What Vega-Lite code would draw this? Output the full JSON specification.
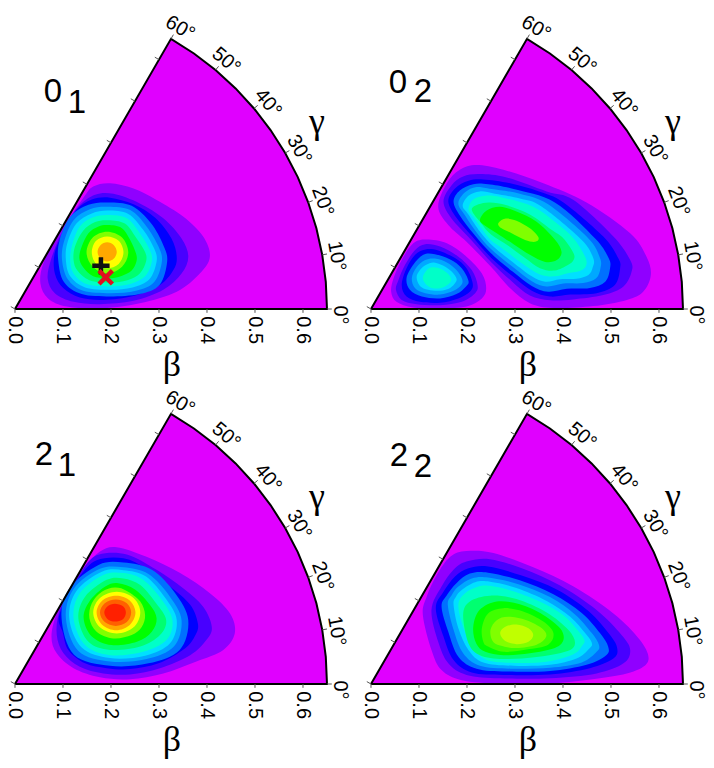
{"$schema":"https://vega.github.io/schema/vega-lite/v6.json","padding":0,"background":"white","spacing":0,"columns":2,"bounds":"flush","config":{"view":{"stroke":null},"concat":{"spacing":0}},
"datasets":{
"frame":[{"x":0,"y":0},{"x":0.65,"y":0},{"x":0.6475,"y":0.0567},{"x":0.6401,"y":0.1129},{"x":0.6279,"y":0.1682},{"x":0.6108,"y":0.2223},{"x":0.5891,"y":0.2747},{"x":0.5629,"y":0.325},{"x":0.5324,"y":0.3728},{"x":0.4979,"y":0.4178},{"x":0.4596,"y":0.4596},{"x":0.4178,"y":0.4979},{"x":0.3728,"y":0.5324},{"x":0.325,"y":0.5629},{"x":0,"y":0}],
"ticks":[{"x":0,"y":0,"x2":0,"y2":-0.008},{"x":0.1,"y":0,"x2":0.1,"y2":-0.008},{"x":0.2,"y":0,"x2":0.2,"y2":-0.008},{"x":0.3,"y":0,"x2":0.3,"y2":-0.008},{"x":0.4,"y":0,"x2":0.4,"y2":-0.008},{"x":0.5,"y":0,"x2":0.5,"y2":-0.008},{"x":0.6,"y":0,"x2":0.6,"y2":-0.008},
{"x":0,"y":0,"x2":-0.0087,"y2":0.005},{"x":0.05,"y":0.0866,"x2":0.0413,"y2":0.0916},{"x":0.1,"y":0.1732,"x2":0.0913,"y2":0.1782},{"x":0.15,"y":0.2598,"x2":0.1413,"y2":0.2648},{"x":0.2,"y":0.3464,"x2":0.1913,"y2":0.3514},{"x":0.25,"y":0.433,"x2":0.2413,"y2":0.438},{"x":0.3,"y":0.5196,"x2":0.2913,"y2":0.5246},
{"x":0.65,"y":0,"x2":0.66,"y2":0},{"x":0.6401,"y":0.1129,"x2":0.65,"y2":0.1146},{"x":0.6108,"y":0.2223,"x2":0.6202,"y2":0.2257},{"x":0.5629,"y":0.325,"x2":0.5716,"y2":0.33},{"x":0.4979,"y":0.4178,"x2":0.5056,"y2":0.4242},{"x":0.4178,"y":0.4979,"x2":0.4242,"y2":0.5056},{"x":0.325,"y":0.5629,"x2":0.33,"y2":0.5716}],
"betaLabels":[{"x":0,"y":-0.044,"t":"0.0"},{"x":0.1,"y":-0.044,"t":"0.1"},{"x":0.2,"y":-0.044,"t":"0.2"},{"x":0.3,"y":-0.044,"t":"0.3"},{"x":0.4,"y":-0.044,"t":"0.4"},{"x":0.5,"y":-0.044,"t":"0.5"},{"x":0.6,"y":-0.044,"t":"0.6"}],
"gammaLabels":[{"x":0.677,"y":-0.0125,"g":0,"t":"0°"},{"x":0.67,"y":0.11,"g":10,"t":"10°"},{"x":0.641,"y":0.224,"g":20,"t":"20°"},{"x":0.592,"y":0.332,"g":30,"t":"30°"},{"x":0.527,"y":0.429,"g":40,"t":"40°"},{"x":0.44,"y":0.517,"g":50,"t":"50°"},{"x":0.344,"y":0.585,"g":60,"t":"60°"}],
"axisNames":[{"x":0.327,"y":-0.117,"t":"β"},{"x":0.629,"y":0.39,"t":"γ"}],
"titles":[{"p":1,"x":0.079,"y":0.452,"t":"0"},{"p":1,"x":0.129,"y":0.429,"t":"1"},{"p":2,"x":0.056,"y":0.471,"t":"0"},{"p":2,"x":0.108,"y":0.452,"t":"2"},{"p":3,"x":0.06,"y":0.477,"t":"2"},{"p":3,"x":0.108,"y":0.454,"t":"1"},{"p":4,"x":0.058,"y":0.475,"t":"2"},{"p":4,"x":0.108,"y":0.452,"t":"2"}],
"contours":[
{"p":1,"l":1,"x":0.053,"y":0.053},{"p":1,"l":1,"x":0.069,"y":0.022},{"p":1,"l":1,"x":0.108,"y":0.005},{"p":1,"l":1,"x":0.177,"y":0.001},{"p":1,"l":1,"x":0.26,"y":0.012},{"p":1,"l":1,"x":0.337,"y":0.036},{"p":1,"l":1,"x":0.385,"y":0.074},{"p":1,"l":1,"x":0.406,"y":0.109},{"p":1,"l":1,"x":0.392,"y":0.151},{"p":1,"l":1,"x":0.351,"y":0.192},{"p":1,"l":1,"x":0.295,"y":0.227},{"p":1,"l":1,"x":0.247,"y":0.251},{"p":1,"l":1,"x":0.198,"y":0.262},{"p":1,"l":1,"x":0.163,"y":0.255},{"p":1,"l":1,"x":0.142,"y":0.231},{"p":1,"l":1,"x":0.09,"y":0.154},{"p":1,"l":1,"x":0.059,"y":0.095},
{"p":1,"l":2,"x":0.068,"y":0.064},{"p":1,"l":2,"x":0.083,"y":0.033},{"p":1,"l":2,"x":0.122,"y":0.015},{"p":1,"l":2,"x":0.177,"y":0.01},{"p":1,"l":2,"x":0.247,"y":0.017},{"p":1,"l":2,"x":0.309,"y":0.04},{"p":1,"l":2,"x":0.347,"y":0.074},{"p":1,"l":2,"x":0.361,"y":0.109},{"p":1,"l":2,"x":0.347,"y":0.147},{"p":1,"l":2,"x":0.309,"y":0.189},{"p":1,"l":2,"x":0.26,"y":0.22},{"p":1,"l":2,"x":0.205,"y":0.24},{"p":1,"l":2,"x":0.167,"y":0.238},{"p":1,"l":2,"x":0.132,"y":0.213},{"p":1,"l":2,"x":0.097,"y":0.158},{"p":1,"l":2,"x":0.076,"y":0.106},
{"p":1,"l":3,"x":0.083,"y":0.074},{"p":1,"l":3,"x":0.101,"y":0.043},{"p":1,"l":3,"x":0.135,"y":0.024},{"p":1,"l":3,"x":0.184,"y":0.019},{"p":1,"l":3,"x":0.247,"y":0.027},{"p":1,"l":3,"x":0.302,"y":0.05},{"p":1,"l":3,"x":0.33,"y":0.081},{"p":1,"l":3,"x":0.337,"y":0.109},{"p":1,"l":3,"x":0.326,"y":0.147},{"p":1,"l":3,"x":0.292,"y":0.19},{"p":1,"l":3,"x":0.247,"y":0.218},{"p":1,"l":3,"x":0.198,"y":0.232},{"p":1,"l":3,"x":0.16,"y":0.228},{"p":1,"l":3,"x":0.128,"y":0.207},{"p":1,"l":3,"x":0.104,"y":0.165},{"p":1,"l":3,"x":0.083,"y":0.118},
{"p":1,"l":4,"x":0.194,"y":0.222},{"p":1,"l":4,"x":0.243,"y":0.215},{"p":1,"l":4,"x":0.283,"y":0.179},{"p":1,"l":4,"x":0.309,"y":0.133},{"p":1,"l":4,"x":0.317,"y":0.099},{"p":1,"l":4,"x":0.301,"y":0.05},{"p":1,"l":4,"x":0.259,"y":0.031},{"p":1,"l":4,"x":0.198,"y":0.026},{"p":1,"l":4,"x":0.139,"y":0.031},{"p":1,"l":4,"x":0.102,"y":0.056},{"p":1,"l":4,"x":0.09,"y":0.102},{"p":1,"l":4,"x":0.093,"y":0.144},{"p":1,"l":4,"x":0.115,"y":0.192},{"p":1,"l":4,"x":0.153,"y":0.217},
{"p":1,"l":5,"x":0.194,"y":0.213},{"p":1,"l":5,"x":0.24,"y":0.206},{"p":1,"l":5,"x":0.274,"y":0.172},{"p":1,"l":5,"x":0.299,"y":0.13},{"p":1,"l":5,"x":0.306,"y":0.099},{"p":1,"l":5,"x":0.29,"y":0.056},{"p":1,"l":5,"x":0.252,"y":0.038},{"p":1,"l":5,"x":0.198,"y":0.033},{"p":1,"l":5,"x":0.142,"y":0.038},{"p":1,"l":5,"x":0.11,"y":0.062},{"p":1,"l":5,"x":0.098,"y":0.102},{"p":1,"l":5,"x":0.102,"y":0.14},{"p":1,"l":5,"x":0.122,"y":0.185},{"p":1,"l":5,"x":0.156,"y":0.208},
{"p":1,"l":6,"x":0.194,"y":0.205},{"p":1,"l":6,"x":0.236,"y":0.198},{"p":1,"l":6,"x":0.267,"y":0.165},{"p":1,"l":6,"x":0.29,"y":0.126},{"p":1,"l":6,"x":0.295,"y":0.099},{"p":1,"l":6,"x":0.28,"y":0.062},{"p":1,"l":6,"x":0.245,"y":0.045},{"p":1,"l":6,"x":0.198,"y":0.04},{"p":1,"l":6,"x":0.146,"y":0.045},{"p":1,"l":6,"x":0.115,"y":0.068},{"p":1,"l":6,"x":0.106,"y":0.102},{"p":1,"l":6,"x":0.109,"y":0.137},{"p":1,"l":6,"x":0.128,"y":0.178},{"p":1,"l":6,"x":0.16,"y":0.199},
{"p":1,"l":7,"x":0.195,"y":0.196},{"p":1,"l":7,"x":0.233,"y":0.189},{"p":1,"l":7,"x":0.26,"y":0.158},{"p":1,"l":7,"x":0.281,"y":0.123},{"p":1,"l":7,"x":0.285,"y":0.099},{"p":1,"l":7,"x":0.271,"y":0.068},{"p":1,"l":7,"x":0.24,"y":0.052},{"p":1,"l":7,"x":0.198,"y":0.047},{"p":1,"l":7,"x":0.149,"y":0.052},{"p":1,"l":7,"x":0.122,"y":0.074},{"p":1,"l":7,"x":0.115,"y":0.102},{"p":1,"l":7,"x":0.119,"y":0.133},{"p":1,"l":7,"x":0.135,"y":0.172},{"p":1,"l":7,"x":0.163,"y":0.191},
{"p":1,"l":8,"x":0.194,"y":0.185},{"p":1,"l":8,"x":0.229,"y":0.178},{"p":1,"l":8,"x":0.252,"y":0.149},{"p":1,"l":8,"x":0.271,"y":0.119},{"p":1,"l":8,"x":0.273,"y":0.099},{"p":1,"l":8,"x":0.26,"y":0.074},{"p":1,"l":8,"x":0.234,"y":0.06},{"p":1,"l":8,"x":0.198,"y":0.055},{"p":1,"l":8,"x":0.155,"y":0.06},{"p":1,"l":8,"x":0.13,"y":0.08},{"p":1,"l":8,"x":0.122,"y":0.102},{"p":1,"l":8,"x":0.125,"y":0.13},{"p":1,"l":8,"x":0.142,"y":0.163},{"p":1,"l":8,"x":0.167,"y":0.181},
{"p":1,"l":9,"x":0.194,"y":0.175},{"p":1,"l":9,"x":0.222,"y":0.169},{"p":1,"l":9,"x":0.24,"y":0.144},{"p":1,"l":9,"x":0.252,"y":0.116},{"p":1,"l":9,"x":0.253,"y":0.099},{"p":1,"l":9,"x":0.243,"y":0.08},{"p":1,"l":9,"x":0.222,"y":0.069},{"p":1,"l":9,"x":0.194,"y":0.064},{"p":1,"l":9,"x":0.163,"y":0.068},{"p":1,"l":9,"x":0.142,"y":0.087},{"p":1,"l":9,"x":0.134,"y":0.106},{"p":1,"l":9,"x":0.139,"y":0.13},{"p":1,"l":9,"x":0.153,"y":0.158},{"p":1,"l":9,"x":0.174,"y":0.172},
{"p":1,"l":10,"x":0.236,"y":0.118},{"p":1,"l":10,"x":0.223,"y":0.149},{"p":1,"l":10,"x":0.192,"y":0.161},{"p":1,"l":10,"x":0.162,"y":0.149},{"p":1,"l":10,"x":0.149,"y":0.118},{"p":1,"l":10,"x":0.162,"y":0.088},{"p":1,"l":10,"x":0.192,"y":0.074},{"p":1,"l":10,"x":0.223,"y":0.088},
{"p":1,"l":11,"x":0.226,"y":0.118},{"p":1,"l":11,"x":0.216,"y":0.142},{"p":1,"l":11,"x":0.192,"y":0.151},{"p":1,"l":11,"x":0.169,"y":0.142},{"p":1,"l":11,"x":0.16,"y":0.118},{"p":1,"l":11,"x":0.169,"y":0.094},{"p":1,"l":11,"x":0.192,"y":0.085},{"p":1,"l":11,"x":0.216,"y":0.094},
{"p":1,"l":12,"x":0.212,"y":0.119},{"p":1,"l":12,"x":0.206,"y":0.133},{"p":1,"l":12,"x":0.192,"y":0.139},{"p":1,"l":12,"x":0.178,"y":0.133},{"p":1,"l":12,"x":0.172,"y":0.119},{"p":1,"l":12,"x":0.178,"y":0.105},{"p":1,"l":12,"x":0.192,"y":0.099},{"p":1,"l":12,"x":0.206,"y":0.105},

{"p":2,"l":1,"x":0.042,"y":0.036},{"p":2,"l":1,"x":0.053,"y":0.015},{"p":2,"l":1,"x":0.088,"y":0.003},{"p":2,"l":1,"x":0.144,"y":0.001},{"p":2,"l":1,"x":0.199,"y":0.005},{"p":2,"l":1,"x":0.231,"y":0.022},{"p":2,"l":1,"x":0.24,"y":0.043},{"p":2,"l":1,"x":0.231,"y":0.074},{"p":2,"l":1,"x":0.199,"y":0.109},{"p":2,"l":1,"x":0.158,"y":0.137},{"p":2,"l":1,"x":0.116,"y":0.145},{"p":2,"l":1,"x":0.088,"y":0.137},{"p":2,"l":1,"x":0.064,"y":0.102},{"p":2,"l":1,"x":0.047,"y":0.064},
{"p":2,"l":2,"x":0.052,"y":0.04},{"p":2,"l":2,"x":0.064,"y":0.019},{"p":2,"l":2,"x":0.095,"y":0.01},{"p":2,"l":2,"x":0.144,"y":0.008},{"p":2,"l":2,"x":0.189,"y":0.015},{"p":2,"l":2,"x":0.217,"y":0.033},{"p":2,"l":2,"x":0.222,"y":0.05},{"p":2,"l":2,"x":0.21,"y":0.081},{"p":2,"l":2,"x":0.182,"y":0.109},{"p":2,"l":2,"x":0.144,"y":0.13},{"p":2,"l":2,"x":0.113,"y":0.135},{"p":2,"l":2,"x":0.092,"y":0.123},{"p":2,"l":2,"x":0.071,"y":0.092},{"p":2,"l":2,"x":0.057,"y":0.06},
{"p":2,"l":3,"x":0.064,"y":0.05},{"p":2,"l":3,"x":0.074,"y":0.026},{"p":2,"l":3,"x":0.102,"y":0.015},{"p":2,"l":3,"x":0.144,"y":0.013},{"p":2,"l":3,"x":0.182,"y":0.022},{"p":2,"l":3,"x":0.206,"y":0.036},{"p":2,"l":3,"x":0.212,"y":0.053},{"p":2,"l":3,"x":0.199,"y":0.085},{"p":2,"l":3,"x":0.175,"y":0.106},{"p":2,"l":3,"x":0.14,"y":0.122},{"p":2,"l":3,"x":0.113,"y":0.124},{"p":2,"l":3,"x":0.092,"y":0.113},{"p":2,"l":3,"x":0.074,"y":0.085},
{"p":2,"l":4,"x":0.074,"y":0.064},{"p":2,"l":4,"x":0.081,"y":0.04},{"p":2,"l":4,"x":0.106,"y":0.026},{"p":2,"l":4,"x":0.144,"y":0.022},{"p":2,"l":4,"x":0.178,"y":0.031},{"p":2,"l":4,"x":0.198,"y":0.047},{"p":2,"l":4,"x":0.203,"y":0.059},{"p":2,"l":4,"x":0.189,"y":0.085},{"p":2,"l":4,"x":0.165,"y":0.103},{"p":2,"l":4,"x":0.133,"y":0.114},{"p":2,"l":4,"x":0.109,"y":0.113},{"p":2,"l":4,"x":0.088,"y":0.092},
{"p":2,"l":5,"x":0.085,"y":0.064},{"p":2,"l":5,"x":0.092,"y":0.043},{"p":2,"l":5,"x":0.113,"y":0.033},{"p":2,"l":5,"x":0.144,"y":0.03},{"p":2,"l":5,"x":0.172,"y":0.038},{"p":2,"l":5,"x":0.188,"y":0.05},{"p":2,"l":5,"x":0.19,"y":0.062},{"p":2,"l":5,"x":0.178,"y":0.081},{"p":2,"l":5,"x":0.158,"y":0.097},{"p":2,"l":5,"x":0.133,"y":0.105},{"p":2,"l":5,"x":0.113,"y":0.102},{"p":2,"l":5,"x":0.095,"y":0.087},
{"p":2,"l":6,"x":0.095,"y":0.066},{"p":2,"l":6,"x":0.102,"y":0.048},{"p":2,"l":6,"x":0.119,"y":0.04},{"p":2,"l":6,"x":0.144,"y":0.038},{"p":2,"l":6,"x":0.165,"y":0.044},{"p":2,"l":6,"x":0.176,"y":0.055},{"p":2,"l":6,"x":0.178,"y":0.064},{"p":2,"l":6,"x":0.168,"y":0.078},{"p":2,"l":6,"x":0.151,"y":0.09},{"p":2,"l":6,"x":0.131,"y":0.097},{"p":2,"l":6,"x":0.115,"y":0.092},{"p":2,"l":6,"x":0.102,"y":0.081},
{"p":2,"l":7,"x":0.108,"y":0.066},{"p":2,"l":7,"x":0.114,"y":0.052},{"p":2,"l":7,"x":0.126,"y":0.044},{"p":2,"l":7,"x":0.144,"y":0.043},{"p":2,"l":7,"x":0.159,"y":0.05},{"p":2,"l":7,"x":0.167,"y":0.06},{"p":2,"l":7,"x":0.161,"y":0.073},{"p":2,"l":7,"x":0.147,"y":0.083},{"p":2,"l":7,"x":0.131,"y":0.087},{"p":2,"l":7,"x":0.118,"y":0.083},

{"p":2,"m":1,"l":1,"x":0.14,"y":0.213},{"p":2,"m":1,"l":1,"x":0.158,"y":0.262},{"p":2,"m":1,"l":1,"x":0.185,"y":0.29},{"p":2,"m":1,"l":1,"x":0.22,"y":0.3},{"p":2,"m":1,"l":1,"x":0.276,"y":0.29},{"p":2,"m":1,"l":1,"x":0.359,"y":0.262},{"p":2,"m":1,"l":1,"x":0.449,"y":0.222},{"p":2,"m":1,"l":1,"x":0.54,"y":0.158},{"p":2,"m":1,"l":1,"x":0.574,"y":0.109},{"p":2,"m":1,"l":1,"x":0.583,"y":0.071},{"p":2,"m":1,"l":1,"x":0.567,"y":0.036},{"p":2,"m":1,"l":1,"x":0.533,"y":0.019},{"p":2,"m":1,"l":1,"x":0.463,"y":0.006},{"p":2,"m":1,"l":1,"x":0.38,"y":0.002},{"p":2,"m":1,"l":1,"x":0.331,"y":0.012},{"p":2,"m":1,"l":1,"x":0.29,"y":0.043},{"p":2,"m":1,"l":1,"x":0.248,"y":0.09},{"p":2,"m":1,"l":1,"x":0.199,"y":0.14},{"p":2,"m":1,"l":1,"x":0.161,"y":0.175},
{"p":2,"m":1,"l":2,"x":0.151,"y":0.224},{"p":2,"m":1,"l":2,"x":0.168,"y":0.258},{"p":2,"m":1,"l":2,"x":0.192,"y":0.276},{"p":2,"m":1,"l":2,"x":0.227,"y":0.281},{"p":2,"m":1,"l":2,"x":0.283,"y":0.274},{"p":2,"m":1,"l":2,"x":0.366,"y":0.245},{"p":2,"m":1,"l":2,"x":0.422,"y":0.227},{"p":2,"m":1,"l":2,"x":0.505,"y":0.151},{"p":2,"m":1,"l":2,"x":0.54,"y":0.102},{"p":2,"m":1,"l":2,"x":0.543,"y":0.078},{"p":2,"m":1,"l":2,"x":0.526,"y":0.047},{"p":2,"m":1,"l":2,"x":0.484,"y":0.029},{"p":2,"m":1,"l":2,"x":0.421,"y":0.02},{"p":2,"m":1,"l":2,"x":0.373,"y":0.018},{"p":2,"m":1,"l":2,"x":0.331,"y":0.028},{"p":2,"m":1,"l":2,"x":0.293,"y":0.058},{"p":2,"m":1,"l":2,"x":0.251,"y":0.097},{"p":2,"m":1,"l":2,"x":0.203,"y":0.15},{"p":2,"m":1,"l":2,"x":0.168,"y":0.188},
{"p":2,"m":1,"l":3,"x":0.161,"y":0.224},{"p":2,"m":1,"l":3,"x":0.175,"y":0.251},{"p":2,"m":1,"l":3,"x":0.203,"y":0.267},{"p":2,"m":1,"l":3,"x":0.234,"y":0.27},{"p":2,"m":1,"l":3,"x":0.29,"y":0.262},{"p":2,"m":1,"l":3,"x":0.35,"y":0.245},{"p":2,"m":1,"l":3,"x":0.401,"y":0.222},{"p":2,"m":1,"l":3,"x":0.484,"y":0.151},{"p":2,"m":1,"l":3,"x":0.515,"y":0.106},{"p":2,"m":1,"l":3,"x":0.519,"y":0.085},{"p":2,"m":1,"l":3,"x":0.508,"y":0.05},{"p":2,"m":1,"l":3,"x":0.47,"y":0.033},{"p":2,"m":1,"l":3,"x":0.415,"y":0.03},{"p":2,"m":1,"l":3,"x":0.373,"y":0.026},{"p":2,"m":1,"l":3,"x":0.335,"y":0.038},{"p":2,"m":1,"l":3,"x":0.295,"y":0.068},{"p":2,"m":1,"l":3,"x":0.25,"y":0.107},{"p":2,"m":1,"l":3,"x":0.21,"y":0.152},{"p":2,"m":1,"l":3,"x":0.178,"y":0.19},
{"p":2,"m":1,"l":4,"x":0.172,"y":0.224},{"p":2,"m":1,"l":4,"x":0.185,"y":0.247},{"p":2,"m":1,"l":4,"x":0.213,"y":0.26},{"p":2,"m":1,"l":4,"x":0.244,"y":0.26},{"p":2,"m":1,"l":4,"x":0.297,"y":0.25},{"p":2,"m":1,"l":4,"x":0.383,"y":0.222},{"p":2,"m":1,"l":4,"x":0.467,"y":0.147},{"p":2,"m":1,"l":4,"x":0.495,"y":0.106},{"p":2,"m":1,"l":4,"x":0.498,"y":0.085},{"p":2,"m":1,"l":4,"x":0.488,"y":0.057},{"p":2,"m":1,"l":4,"x":0.456,"y":0.044},{"p":2,"m":1,"l":4,"x":0.408,"y":0.042},{"p":2,"m":1,"l":4,"x":0.369,"y":0.036},{"p":2,"m":1,"l":4,"x":0.335,"y":0.048},{"p":2,"m":1,"l":4,"x":0.295,"y":0.078},{"p":2,"m":1,"l":4,"x":0.25,"y":0.116},{"p":2,"m":1,"l":4,"x":0.215,"y":0.155},{"p":2,"m":1,"l":4,"x":0.185,"y":0.195},
{"p":2,"m":1,"l":5,"x":0.182,"y":0.22},{"p":2,"m":1,"l":5,"x":0.196,"y":0.243},{"p":2,"m":1,"l":5,"x":0.22,"y":0.254},{"p":2,"m":1,"l":5,"x":0.251,"y":0.25},{"p":2,"m":1,"l":5,"x":0.31,"y":0.24},{"p":2,"m":1,"l":5,"x":0.369,"y":0.218},{"p":2,"m":1,"l":5,"x":0.453,"y":0.147},{"p":2,"m":1,"l":5,"x":0.477,"y":0.106},{"p":2,"m":1,"l":5,"x":0.478,"y":0.085},{"p":2,"m":1,"l":5,"x":0.469,"y":0.064},{"p":2,"m":1,"l":5,"x":0.442,"y":0.054},{"p":2,"m":1,"l":5,"x":0.401,"y":0.053},{"p":2,"m":1,"l":5,"x":0.366,"y":0.047},{"p":2,"m":1,"l":5,"x":0.335,"y":0.058},{"p":2,"m":1,"l":5,"x":0.295,"y":0.088},{"p":2,"m":1,"l":5,"x":0.25,"y":0.125},{"p":2,"m":1,"l":5,"x":0.222,"y":0.157},{"p":2,"m":1,"l":5,"x":0.196,"y":0.195},
{"p":2,"m":1,"l":6,"x":0.191,"y":0.215},{"p":2,"m":1,"l":6,"x":0.203,"y":0.236},{"p":2,"m":1,"l":6,"x":0.227,"y":0.245},{"p":2,"m":1,"l":6,"x":0.258,"y":0.24},{"p":2,"m":1,"l":6,"x":0.31,"y":0.23},{"p":2,"m":1,"l":6,"x":0.356,"y":0.213},{"p":2,"m":1,"l":6,"x":0.439,"y":0.144},{"p":2,"m":1,"l":6,"x":0.463,"y":0.106},{"p":2,"m":1,"l":6,"x":0.462,"y":0.087},{"p":2,"m":1,"l":6,"x":0.453,"y":0.071},{"p":2,"m":1,"l":6,"x":0.428,"y":0.063},{"p":2,"m":1,"l":6,"x":0.394,"y":0.062},{"p":2,"m":1,"l":6,"x":0.363,"y":0.057},{"p":2,"m":1,"l":6,"x":0.335,"y":0.068},{"p":2,"m":1,"l":6,"x":0.295,"y":0.098},{"p":2,"m":1,"l":6,"x":0.255,"y":0.13},{"p":2,"m":1,"l":6,"x":0.228,"y":0.16},{"p":2,"m":1,"l":6,"x":0.203,"y":0.197},
{"p":2,"m":1,"l":7,"x":0.203,"y":0.208},{"p":2,"m":1,"l":7,"x":0.213,"y":0.228},{"p":2,"m":1,"l":7,"x":0.238,"y":0.236},{"p":2,"m":1,"l":7,"x":0.275,"y":0.232},{"p":2,"m":1,"l":7,"x":0.338,"y":0.213},{"p":2,"m":1,"l":7,"x":0.385,"y":0.18},{"p":2,"m":1,"l":7,"x":0.422,"y":0.147},{"p":2,"m":1,"l":7,"x":0.446,"y":0.109},{"p":2,"m":1,"l":7,"x":0.448,"y":0.09},{"p":2,"m":1,"l":7,"x":0.435,"y":0.079},{"p":2,"m":1,"l":7,"x":0.408,"y":0.074},{"p":2,"m":1,"l":7,"x":0.383,"y":0.068},{"p":2,"m":1,"l":7,"x":0.352,"y":0.072},{"p":2,"m":1,"l":7,"x":0.315,"y":0.095},{"p":2,"m":1,"l":7,"x":0.275,"y":0.125},{"p":2,"m":1,"l":7,"x":0.25,"y":0.143},{"p":2,"m":1,"l":7,"x":0.232,"y":0.165},{"p":2,"m":1,"l":7,"x":0.213,"y":0.192},
{"p":2,"m":1,"l":8,"x":0.21,"y":0.206},{"p":2,"m":1,"l":8,"x":0.224,"y":0.218},{"p":2,"m":1,"l":8,"x":0.248,"y":0.222},{"p":2,"m":1,"l":8,"x":0.283,"y":0.216},{"p":2,"m":1,"l":8,"x":0.331,"y":0.197},{"p":2,"m":1,"l":8,"x":0.376,"y":0.165},{"p":2,"m":1,"l":8,"x":0.401,"y":0.147},{"p":2,"m":1,"l":8,"x":0.422,"y":0.116},{"p":2,"m":1,"l":8,"x":0.422,"y":0.102},{"p":2,"m":1,"l":8,"x":0.411,"y":0.092},{"p":2,"m":1,"l":8,"x":0.383,"y":0.08},{"p":2,"m":1,"l":8,"x":0.352,"y":0.085},{"p":2,"m":1,"l":8,"x":0.321,"y":0.106},{"p":2,"m":1,"l":8,"x":0.286,"y":0.132},{"p":2,"m":1,"l":8,"x":0.25,"y":0.155},{"p":2,"m":1,"l":8,"x":0.23,"y":0.178},
{"p":2,"m":1,"l":9,"x":0.227,"y":0.185},{"p":2,"m":1,"l":9,"x":0.241,"y":0.205},{"p":2,"m":1,"l":9,"x":0.269,"y":0.213},{"p":2,"m":1,"l":9,"x":0.303,"y":0.203},{"p":2,"m":1,"l":9,"x":0.345,"y":0.182},{"p":2,"m":1,"l":9,"x":0.383,"y":0.145},{"p":2,"m":1,"l":9,"x":0.397,"y":0.119},{"p":2,"m":1,"l":9,"x":0.387,"y":0.102},{"p":2,"m":1,"l":9,"x":0.363,"y":0.098},{"p":2,"m":1,"l":9,"x":0.331,"y":0.113},{"p":2,"m":1,"l":9,"x":0.297,"y":0.135},{"p":2,"m":1,"l":9,"x":0.262,"y":0.158},{"p":2,"m":1,"l":9,"x":0.24,"y":0.172},
{"p":2,"m":1,"l":10,"x":0.265,"y":0.178},{"p":2,"m":1,"l":10,"x":0.279,"y":0.188},{"p":2,"m":1,"l":10,"x":0.303,"y":0.184},{"p":2,"m":1,"l":10,"x":0.331,"y":0.168},{"p":2,"m":1,"l":10,"x":0.349,"y":0.149},{"p":2,"m":1,"l":10,"x":0.342,"y":0.14},{"p":2,"m":1,"l":10,"x":0.321,"y":0.144},{"p":2,"m":1,"l":10,"x":0.293,"y":0.158},{"p":2,"m":1,"l":10,"x":0.272,"y":0.168},

{"p":3,"l":1,"x":0.076,"y":0.099},{"p":3,"l":1,"x":0.087,"y":0.064},{"p":3,"l":1,"x":0.122,"y":0.033},{"p":3,"l":1,"x":0.177,"y":0.014},{"p":3,"l":1,"x":0.24,"y":0.01},{"p":3,"l":1,"x":0.309,"y":0.022},{"p":3,"l":1,"x":0.378,"y":0.047},{"p":3,"l":1,"x":0.434,"y":0.071},{"p":3,"l":1,"x":0.458,"y":0.106},{"p":3,"l":1,"x":0.448,"y":0.147},{"p":3,"l":1,"x":0.406,"y":0.189},{"p":3,"l":1,"x":0.344,"y":0.231},{"p":3,"l":1,"x":0.274,"y":0.265},{"p":3,"l":1,"x":0.212,"y":0.285},{"p":3,"l":1,"x":0.177,"y":0.276},{"p":3,"l":1,"x":0.146,"y":0.244},{"p":3,"l":1,"x":0.115,"y":0.196},{"p":3,"l":1,"x":0.087,"y":0.147},
{"p":3,"l":2,"x":0.087,"y":0.102},{"p":3,"l":2,"x":0.101,"y":0.064},{"p":3,"l":2,"x":0.135,"y":0.036},{"p":3,"l":2,"x":0.184,"y":0.022},{"p":3,"l":2,"x":0.24,"y":0.02},{"p":3,"l":2,"x":0.302,"y":0.033},{"p":3,"l":2,"x":0.365,"y":0.06},{"p":3,"l":2,"x":0.399,"y":0.092},{"p":3,"l":2,"x":0.41,"y":0.119},{"p":3,"l":2,"x":0.392,"y":0.161},{"p":3,"l":2,"x":0.351,"y":0.199},{"p":3,"l":2,"x":0.295,"y":0.238},{"p":3,"l":2,"x":0.233,"y":0.27},{"p":3,"l":2,"x":0.175,"y":0.27},{"p":3,"l":2,"x":0.145,"y":0.245},{"p":3,"l":2,"x":0.118,"y":0.2},{"p":3,"l":2,"x":0.092,"y":0.15},
{"p":3,"l":3,"x":0.099,"y":0.109},{"p":3,"l":3,"x":0.111,"y":0.071},{"p":3,"l":3,"x":0.146,"y":0.043},{"p":3,"l":3,"x":0.191,"y":0.033},{"p":3,"l":3,"x":0.24,"y":0.031},{"p":3,"l":3,"x":0.299,"y":0.043},{"p":3,"l":3,"x":0.354,"y":0.074},{"p":3,"l":3,"x":0.376,"y":0.102},{"p":3,"l":3,"x":0.381,"y":0.126},{"p":3,"l":3,"x":0.365,"y":0.165},{"p":3,"l":3,"x":0.323,"y":0.203},{"p":3,"l":3,"x":0.274,"y":0.24},{"p":3,"l":3,"x":0.226,"y":0.262},{"p":3,"l":3,"x":0.17,"y":0.258},{"p":3,"l":3,"x":0.135,"y":0.225},{"p":3,"l":3,"x":0.108,"y":0.18},{"p":3,"l":3,"x":0.091,"y":0.137},
{"p":3,"l":4,"x":0.361,"y":0.133},{"p":3,"l":4,"x":0.333,"y":0.19},{"p":3,"l":4,"x":0.285,"y":0.238},{"p":3,"l":4,"x":0.226,"y":0.253},{"p":3,"l":4,"x":0.174,"y":0.248},{"p":3,"l":4,"x":0.113,"y":0.199},{"p":3,"l":4,"x":0.097,"y":0.137},{"p":3,"l":4,"x":0.123,"y":0.061},{"p":3,"l":4,"x":0.198,"y":0.038},{"p":3,"l":4,"x":0.278,"y":0.043},{"p":3,"l":4,"x":0.343,"y":0.071},
{"p":3,"l":5,"x":0.347,"y":0.133},{"p":3,"l":5,"x":0.322,"y":0.183},{"p":3,"l":5,"x":0.278,"y":0.229},{"p":3,"l":5,"x":0.226,"y":0.243},{"p":3,"l":5,"x":0.177,"y":0.24},{"p":3,"l":5,"x":0.122,"y":0.198},{"p":3,"l":5,"x":0.106,"y":0.137},{"p":3,"l":5,"x":0.132,"y":0.069},{"p":3,"l":5,"x":0.198,"y":0.047},{"p":3,"l":5,"x":0.274,"y":0.052},{"p":3,"l":5,"x":0.331,"y":0.078},
{"p":3,"l":6,"x":0.337,"y":0.133},{"p":3,"l":6,"x":0.314,"y":0.178},{"p":3,"l":6,"x":0.273,"y":0.224},{"p":3,"l":6,"x":0.226,"y":0.237},{"p":3,"l":6,"x":0.181,"y":0.234},{"p":3,"l":6,"x":0.128,"y":0.194},{"p":3,"l":6,"x":0.113,"y":0.137},{"p":3,"l":6,"x":0.139,"y":0.076},{"p":3,"l":6,"x":0.198,"y":0.054},{"p":3,"l":6,"x":0.271,"y":0.059},{"p":3,"l":6,"x":0.323,"y":0.085},
{"p":3,"l":7,"x":0.328,"y":0.133},{"p":3,"l":7,"x":0.306,"y":0.175},{"p":3,"l":7,"x":0.267,"y":0.217},{"p":3,"l":7,"x":0.226,"y":0.231},{"p":3,"l":7,"x":0.184,"y":0.227},{"p":3,"l":7,"x":0.135,"y":0.189},{"p":3,"l":7,"x":0.122,"y":0.137},{"p":3,"l":7,"x":0.146,"y":0.081},{"p":3,"l":7,"x":0.198,"y":0.06},{"p":3,"l":7,"x":0.267,"y":0.067},{"p":3,"l":7,"x":0.316,"y":0.092},
{"p":3,"l":8,"x":0.315,"y":0.133},{"p":3,"l":8,"x":0.294,"y":0.168},{"p":3,"l":8,"x":0.261,"y":0.206},{"p":3,"l":8,"x":0.226,"y":0.22},{"p":3,"l":8,"x":0.191,"y":0.217},{"p":3,"l":8,"x":0.146,"y":0.182},{"p":3,"l":8,"x":0.132,"y":0.137},{"p":3,"l":8,"x":0.153,"y":0.088},{"p":3,"l":8,"x":0.198,"y":0.071},{"p":3,"l":8,"x":0.261,"y":0.078},{"p":3,"l":8,"x":0.302,"y":0.102},
{"p":3,"l":9,"x":0.295,"y":0.137},{"p":3,"l":9,"x":0.281,"y":0.165},{"p":3,"l":9,"x":0.25,"y":0.197},{"p":3,"l":9,"x":0.215,"y":0.21},{"p":3,"l":9,"x":0.188,"y":0.203},{"p":3,"l":9,"x":0.155,"y":0.172},{"p":3,"l":9,"x":0.143,"y":0.137},{"p":3,"l":9,"x":0.16,"y":0.099},{"p":3,"l":9,"x":0.201,"y":0.081},{"p":3,"l":9,"x":0.254,"y":0.088},{"p":3,"l":9,"x":0.285,"y":0.109},
{"p":3,"l":10,"x":0.271,"y":0.144},{"p":3,"l":10,"x":0.261,"y":0.172},{"p":3,"l":10,"x":0.233,"y":0.194},{"p":3,"l":10,"x":0.208,"y":0.201},{"p":3,"l":10,"x":0.181,"y":0.192},{"p":3,"l":10,"x":0.16,"y":0.168},{"p":3,"l":10,"x":0.155,"y":0.137},{"p":3,"l":10,"x":0.17,"y":0.109},{"p":3,"l":10,"x":0.205,"y":0.095},{"p":3,"l":10,"x":0.243,"y":0.102},{"p":3,"l":10,"x":0.264,"y":0.119},
{"p":3,"l":11,"x":0.261,"y":0.149},{"p":3,"l":11,"x":0.247,"y":0.179},{"p":3,"l":11,"x":0.212,"y":0.192},{"p":3,"l":11,"x":0.177,"y":0.179},{"p":3,"l":11,"x":0.163,"y":0.149},{"p":3,"l":11,"x":0.177,"y":0.118},{"p":3,"l":11,"x":0.212,"y":0.105},{"p":3,"l":11,"x":0.247,"y":0.118},
{"p":3,"l":12,"x":0.251,"y":0.149},{"p":3,"l":12,"x":0.239,"y":0.174},{"p":3,"l":12,"x":0.211,"y":0.184},{"p":3,"l":12,"x":0.182,"y":0.174},{"p":3,"l":12,"x":0.17,"y":0.149},{"p":3,"l":12,"x":0.182,"y":0.123},{"p":3,"l":12,"x":0.211,"y":0.112},{"p":3,"l":12,"x":0.239,"y":0.123},
{"p":3,"l":13,"x":0.242,"y":0.149},{"p":3,"l":13,"x":0.233,"y":0.168},{"p":3,"l":13,"x":0.21,"y":0.176},{"p":3,"l":13,"x":0.187,"y":0.168},{"p":3,"l":13,"x":0.177,"y":0.149},{"p":3,"l":13,"x":0.187,"y":0.129},{"p":3,"l":13,"x":0.21,"y":0.121},{"p":3,"l":13,"x":0.233,"y":0.129},
{"p":3,"l":14,"x":0.231,"y":0.149},{"p":3,"l":14,"x":0.225,"y":0.162},{"p":3,"l":14,"x":0.208,"y":0.167},{"p":3,"l":14,"x":0.193,"y":0.162},{"p":3,"l":14,"x":0.186,"y":0.149},{"p":3,"l":14,"x":0.193,"y":0.135},{"p":3,"l":14,"x":0.208,"y":0.13},{"p":3,"l":14,"x":0.225,"y":0.135},

{"p":4,"l":1,"x":0.108,"y":0.144},{"p":4,"l":1,"x":0.126,"y":0.071},{"p":4,"l":1,"x":0.147,"y":0.029},{"p":4,"l":1,"x":0.189,"y":0.008},{"p":4,"l":1,"x":0.269,"y":0.001},{"p":4,"l":1,"x":0.373,"y":0.001},{"p":4,"l":1,"x":0.477,"y":0.012},{"p":4,"l":1,"x":0.547,"y":0.026},{"p":4,"l":1,"x":0.578,"y":0.05},{"p":4,"l":1,"x":0.56,"y":0.092},{"p":4,"l":1,"x":0.505,"y":0.147},{"p":4,"l":1,"x":0.422,"y":0.203},{"p":4,"l":1,"x":0.338,"y":0.243},{"p":4,"l":1,"x":0.255,"y":0.273},{"p":4,"l":1,"x":0.199,"y":0.277},{"p":4,"l":1,"x":0.165,"y":0.265},{"p":4,"l":1,"x":0.137,"y":0.227},{"p":4,"l":1,"x":0.116,"y":0.182},
{"p":4,"l":2,"x":0.126,"y":0.154},{"p":4,"l":2,"x":0.14,"y":0.088},{"p":4,"l":2,"x":0.161,"y":0.043},{"p":4,"l":2,"x":0.199,"y":0.019},{"p":4,"l":2,"x":0.269,"y":0.012},{"p":4,"l":2,"x":0.373,"y":0.012},{"p":4,"l":2,"x":0.47,"y":0.022},{"p":4,"l":2,"x":0.526,"y":0.043},{"p":4,"l":2,"x":0.54,"y":0.071},{"p":4,"l":2,"x":0.522,"y":0.102},{"p":4,"l":2,"x":0.47,"y":0.154},{"p":4,"l":2,"x":0.394,"y":0.205},{"p":4,"l":2,"x":0.317,"y":0.24},{"p":4,"l":2,"x":0.248,"y":0.26},{"p":4,"l":2,"x":0.203,"y":0.256},{"p":4,"l":2,"x":0.175,"y":0.241},{"p":4,"l":2,"x":0.147,"y":0.203},
{"p":4,"l":3,"x":0.135,"y":0.158},{"p":4,"l":3,"x":0.151,"y":0.099},{"p":4,"l":3,"x":0.172,"y":0.05},{"p":4,"l":3,"x":0.21,"y":0.024},{"p":4,"l":3,"x":0.276,"y":0.019},{"p":4,"l":3,"x":0.373,"y":0.02},{"p":4,"l":3,"x":0.456,"y":0.033},{"p":4,"l":3,"x":0.505,"y":0.053},{"p":4,"l":3,"x":0.513,"y":0.074},{"p":4,"l":3,"x":0.498,"y":0.102},{"p":4,"l":3,"x":0.453,"y":0.152},{"p":4,"l":3,"x":0.387,"y":0.197},{"p":4,"l":3,"x":0.314,"y":0.226},{"p":4,"l":3,"x":0.244,"y":0.245},{"p":4,"l":3,"x":0.203,"y":0.241},{"p":4,"l":3,"x":0.175,"y":0.224},{"p":4,"l":3,"x":0.151,"y":0.192},
{"p":4,"l":4,"x":0.147,"y":0.161},{"p":4,"l":4,"x":0.161,"y":0.109},{"p":4,"l":4,"x":0.182,"y":0.057},{"p":4,"l":4,"x":0.22,"y":0.032},{"p":4,"l":4,"x":0.283,"y":0.026},{"p":4,"l":4,"x":0.373,"y":0.027},{"p":4,"l":4,"x":0.449,"y":0.04},{"p":4,"l":4,"x":0.49,"y":0.06},{"p":4,"l":4,"x":0.494,"y":0.078},{"p":4,"l":4,"x":0.477,"y":0.106},{"p":4,"l":4,"x":0.439,"y":0.148},{"p":4,"l":4,"x":0.38,"y":0.187},{"p":4,"l":4,"x":0.31,"y":0.216},{"p":4,"l":4,"x":0.244,"y":0.232},{"p":4,"l":4,"x":0.206,"y":0.23},{"p":4,"l":4,"x":0.178,"y":0.21},{"p":4,"l":4,"x":0.158,"y":0.185},
{"p":4,"l":5,"x":0.16,"y":0.165},{"p":4,"l":5,"x":0.172,"y":0.113},{"p":4,"l":5,"x":0.192,"y":0.064},{"p":4,"l":5,"x":0.227,"y":0.038},{"p":4,"l":5,"x":0.29,"y":0.032},{"p":4,"l":5,"x":0.373,"y":0.034},{"p":4,"l":5,"x":0.439,"y":0.045},{"p":4,"l":5,"x":0.47,"y":0.067},{"p":4,"l":5,"x":0.475,"y":0.081},{"p":4,"l":5,"x":0.46,"y":0.106},{"p":4,"l":5,"x":0.425,"y":0.145},{"p":4,"l":5,"x":0.373,"y":0.181},{"p":4,"l":5,"x":0.307,"y":0.208},{"p":4,"l":5,"x":0.244,"y":0.222},{"p":4,"l":5,"x":0.21,"y":0.22},{"p":4,"l":5,"x":0.182,"y":0.203},{"p":4,"l":5,"x":0.168,"y":0.185},
{"p":4,"l":6,"x":0.172,"y":0.165},{"p":4,"l":6,"x":0.182,"y":0.116},{"p":4,"l":6,"x":0.203,"y":0.071},{"p":4,"l":6,"x":0.234,"y":0.045},{"p":4,"l":6,"x":0.297,"y":0.038},{"p":4,"l":6,"x":0.373,"y":0.04},{"p":4,"l":6,"x":0.428,"y":0.053},{"p":4,"l":6,"x":0.455,"y":0.074},{"p":4,"l":6,"x":0.46,"y":0.086},{"p":4,"l":6,"x":0.446,"y":0.106},{"p":4,"l":6,"x":0.415,"y":0.14},{"p":4,"l":6,"x":0.366,"y":0.173},{"p":4,"l":6,"x":0.303,"y":0.2},{"p":4,"l":6,"x":0.248,"y":0.213},{"p":4,"l":6,"x":0.217,"y":0.212},{"p":4,"l":6,"x":0.189,"y":0.196},{"p":4,"l":6,"x":0.177,"y":0.182},
{"p":4,"l":7,"x":0.182,"y":0.165},{"p":4,"l":7,"x":0.192,"y":0.119},{"p":4,"l":7,"x":0.212,"y":0.078},{"p":4,"l":7,"x":0.241,"y":0.05},{"p":4,"l":7,"x":0.3,"y":0.044},{"p":4,"l":7,"x":0.369,"y":0.047},{"p":4,"l":7,"x":0.422,"y":0.062},{"p":4,"l":7,"x":0.441,"y":0.081},{"p":4,"l":7,"x":0.444,"y":0.093},{"p":4,"l":7,"x":0.428,"y":0.115},{"p":4,"l":7,"x":0.401,"y":0.143},{"p":4,"l":7,"x":0.359,"y":0.168},{"p":4,"l":7,"x":0.3,"y":0.192},{"p":4,"l":7,"x":0.251,"y":0.204},{"p":4,"l":7,"x":0.224,"y":0.203},{"p":4,"l":7,"x":0.196,"y":0.189},
{"p":4,"l":8,"x":0.192,"y":0.144},{"p":4,"l":8,"x":0.203,"y":0.085},{"p":4,"l":8,"x":0.227,"y":0.06},{"p":4,"l":8,"x":0.276,"y":0.052},{"p":4,"l":8,"x":0.345,"y":0.056},{"p":4,"l":8,"x":0.408,"y":0.068},{"p":4,"l":8,"x":0.425,"y":0.085},{"p":4,"l":8,"x":0.411,"y":0.113},{"p":4,"l":8,"x":0.366,"y":0.149},{"p":4,"l":8,"x":0.303,"y":0.177},{"p":4,"l":8,"x":0.248,"y":0.184},{"p":4,"l":8,"x":0.206,"y":0.172},
{"p":4,"l":9,"x":0.213,"y":0.119},{"p":4,"l":9,"x":0.219,"y":0.085},{"p":4,"l":9,"x":0.238,"y":0.067},{"p":4,"l":9,"x":0.276,"y":0.06},{"p":4,"l":9,"x":0.331,"y":0.064},{"p":4,"l":9,"x":0.383,"y":0.075},{"p":4,"l":9,"x":0.401,"y":0.092},{"p":4,"l":9,"x":0.394,"y":0.116},{"p":4,"l":9,"x":0.359,"y":0.144},{"p":4,"l":9,"x":0.31,"y":0.166},{"p":4,"l":9,"x":0.262,"y":0.172},{"p":4,"l":9,"x":0.226,"y":0.154},
{"p":4,"l":9.5,"x":0.231,"y":0.116},{"p":4,"l":9.5,"x":0.234,"y":0.088},{"p":4,"l":9.5,"x":0.244,"y":0.078},{"p":4,"l":9.5,"x":0.276,"y":0.067},{"p":4,"l":9.5,"x":0.324,"y":0.072},{"p":4,"l":9.5,"x":0.369,"y":0.082},{"p":4,"l":9.5,"x":0.38,"y":0.106},{"p":4,"l":9.5,"x":0.359,"y":0.13},{"p":4,"l":9.5,"x":0.317,"y":0.151},{"p":4,"l":9.5,"x":0.276,"y":0.158},{"p":4,"l":9.5,"x":0.244,"y":0.147},
{"p":4,"l":10,"x":0.249,"y":0.113},{"p":4,"l":10,"x":0.253,"y":0.09},{"p":4,"l":10,"x":0.269,"y":0.08},{"p":4,"l":10,"x":0.303,"y":0.075},{"p":4,"l":10,"x":0.345,"y":0.082},{"p":4,"l":10,"x":0.365,"y":0.099},{"p":4,"l":10,"x":0.356,"y":0.116},{"p":4,"l":10,"x":0.324,"y":0.133},{"p":4,"l":10,"x":0.286,"y":0.14},{"p":4,"l":10,"x":0.262,"y":0.133},
{"p":4,"l":10.5,"x":0.269,"y":0.106},{"p":4,"l":10.5,"x":0.279,"y":0.119},{"p":4,"l":10.5,"x":0.303,"y":0.124},{"p":4,"l":10.5,"x":0.328,"y":0.116},{"p":4,"l":10.5,"x":0.338,"y":0.102},{"p":4,"l":10.5,"x":0.328,"y":0.088},{"p":4,"l":10.5,"x":0.303,"y":0.083},{"p":4,"l":10.5,"x":0.279,"y":0.09}
],
"markers":[{"x":0.179,"y":0.09,"k":"plus"},{"x":0.189,"y":0.066,"k":"cross"}]
},
"concat":[
{"width":356,"height":375,"encoding":{"x":{"field":"x","type":"quantitative","scale":{"domain":[-0.03125,0.71042]},"axis":null},"y":{"field":"y","type":"quantitative","scale":{"domain":[-0.1375,0.64375]},"axis":null}},"layer":[
{"data":{"name":"frame"},"mark":{"type":"line","fill":"#e000ff","stroke":"transparent"},"encoding":{"order":{"value":null}}},
{"data":{"name":"contours"},"transform":[{"filter":"datum.p==1"}],"mark":{"type":"line","interpolate":"cardinal-closed","strokeWidth":0,"stroke":"transparent"},"encoding":{"fill":{"field":"l","type":"ordinal","legend":null,"scale":{"domain":[1,2,3,4,5,6,7,8,9,9.5,10,10.5,11,12,13,14],"range":["#9000ff","#4800ff","#0000ff","#0070ff","#00a8ff","#00e0ff","#00ffc8","#00ff70","#00ff00","#40ff00","#80ff00","#c0ff00","#ffff00","#ffa800","#ff6000","#ff2000"]}},"detail":{"field":"m"},"order":{"value":null}}},
{"data":{"name":"frame"},"mark":{"type":"line","stroke":"black","strokeWidth":2},"encoding":{"order":{"value":null}}},
{"data":{"name":"ticks"},"mark":{"type":"rule","stroke":"#555","strokeWidth":1},"encoding":{"x2":{"field":"x2"},"y2":{"field":"y2"}}},
{"data":{"name":"betaLabels"},"mark":{"type":"text","font":"Liberation Sans","fontSize":20,"angle":90,"align":"center","baseline":"middle"},"encoding":{"text":{"field":"t"}}},
{"data":{"name":"gammaLabels"},"mark":{"type":"text","font":"Liberation Sans","fontSize":20,"align":"center","baseline":"middle"},"encoding":{"text":{"field":"t"},"angle":{"field":"g","type":"quantitative","scale":{"domain":[0,90],"range":[90,0]},"legend":null}}},
{"data":{"name":"axisNames"},"mark":{"type":"text","font":"Liberation Serif","fontSize":36,"align":"center","baseline":"middle"},"encoding":{"text":{"field":"t"}}},
{"data":{"name":"titles"},"transform":[{"filter":"datum.p==1"}],"mark":{"type":"text","font":"Liberation Sans","fontSize":33,"align":"center","baseline":"middle"},"encoding":{"text":{"field":"t"}}},
{"data":{"name":"markers"},"mark":{"type":"point","filled":false,"opacity":1},"encoding":{"shape":{"field":"k","type":"nominal","legend":null,"scale":{"domain":["plus","cross"],"range":["M-1,0H1M0,-1V1","M-1,-1L1,1M-1,1L1,-1"]}},"stroke":{"field":"k","type":"nominal","legend":null,"scale":{"domain":["plus","cross"],"range":["#111111","#e01020"]}},"size":{"field":"k","type":"nominal","legend":null,"scale":{"domain":["plus","cross"],"range":[300,180]}},"strokeWidth":{"value":4.5}}}
]},
{"width":356,"height":375,"encoding":{"x":{"field":"x","type":"quantitative","scale":{"domain":[-0.03125,0.71042]},"axis":null},"y":{"field":"y","type":"quantitative","scale":{"domain":[-0.1375,0.64375]},"axis":null}},"layer":[
{"data":{"name":"frame"},"mark":{"type":"line","fill":"#e000ff","stroke":"transparent"},"encoding":{"order":{"value":null}}},
{"data":{"name":"contours"},"transform":[{"filter":"datum.p==2"}],"mark":{"type":"line","interpolate":"cardinal-closed","strokeWidth":0,"stroke":"transparent"},"encoding":{"fill":{"field":"l","type":"ordinal","legend":null,"scale":{"domain":[1,2,3,4,5,6,7,8,9,9.5,10,10.5,11,12,13,14],"range":["#9000ff","#4800ff","#0000ff","#0070ff","#00a8ff","#00e0ff","#00ffc8","#00ff70","#00ff00","#40ff00","#80ff00","#c0ff00","#ffff00","#ffa800","#ff6000","#ff2000"]}},"detail":{"field":"m"},"order":{"value":null}}},
{"data":{"name":"frame"},"mark":{"type":"line","stroke":"black","strokeWidth":2},"encoding":{"order":{"value":null}}},
{"data":{"name":"ticks"},"mark":{"type":"rule","stroke":"#555","strokeWidth":1},"encoding":{"x2":{"field":"x2"},"y2":{"field":"y2"}}},
{"data":{"name":"betaLabels"},"mark":{"type":"text","font":"Liberation Sans","fontSize":20,"angle":90,"align":"center","baseline":"middle"},"encoding":{"text":{"field":"t"}}},
{"data":{"name":"gammaLabels"},"mark":{"type":"text","font":"Liberation Sans","fontSize":20,"align":"center","baseline":"middle"},"encoding":{"text":{"field":"t"},"angle":{"field":"g","type":"quantitative","scale":{"domain":[0,90],"range":[90,0]},"legend":null}}},
{"data":{"name":"axisNames"},"mark":{"type":"text","font":"Liberation Serif","fontSize":36,"align":"center","baseline":"middle"},"encoding":{"text":{"field":"t"}}},
{"data":{"name":"titles"},"transform":[{"filter":"datum.p==2"}],"mark":{"type":"text","font":"Liberation Sans","fontSize":33,"align":"center","baseline":"middle"},"encoding":{"text":{"field":"t"}}}
]},
{"width":356,"height":375,"encoding":{"x":{"field":"x","type":"quantitative","scale":{"domain":[-0.03125,0.71042]},"axis":null},"y":{"field":"y","type":"quantitative","scale":{"domain":[-0.1375,0.64375]},"axis":null}},"layer":[
{"data":{"name":"frame"},"mark":{"type":"line","fill":"#e000ff","stroke":"transparent"},"encoding":{"order":{"value":null}}},
{"data":{"name":"contours"},"transform":[{"filter":"datum.p==3"}],"mark":{"type":"line","interpolate":"cardinal-closed","strokeWidth":0,"stroke":"transparent"},"encoding":{"fill":{"field":"l","type":"ordinal","legend":null,"scale":{"domain":[1,2,3,4,5,6,7,8,9,9.5,10,10.5,11,12,13,14],"range":["#9000ff","#4800ff","#0000ff","#0070ff","#00a8ff","#00e0ff","#00ffc8","#00ff70","#00ff00","#40ff00","#80ff00","#c0ff00","#ffff00","#ffa800","#ff6000","#ff2000"]}},"detail":{"field":"m"},"order":{"value":null}}},
{"data":{"name":"frame"},"mark":{"type":"line","stroke":"black","strokeWidth":2},"encoding":{"order":{"value":null}}},
{"data":{"name":"ticks"},"mark":{"type":"rule","stroke":"#555","strokeWidth":1},"encoding":{"x2":{"field":"x2"},"y2":{"field":"y2"}}},
{"data":{"name":"betaLabels"},"mark":{"type":"text","font":"Liberation Sans","fontSize":20,"angle":90,"align":"center","baseline":"middle"},"encoding":{"text":{"field":"t"}}},
{"data":{"name":"gammaLabels"},"mark":{"type":"text","font":"Liberation Sans","fontSize":20,"align":"center","baseline":"middle"},"encoding":{"text":{"field":"t"},"angle":{"field":"g","type":"quantitative","scale":{"domain":[0,90],"range":[90,0]},"legend":null}}},
{"data":{"name":"axisNames"},"mark":{"type":"text","font":"Liberation Serif","fontSize":36,"align":"center","baseline":"middle"},"encoding":{"text":{"field":"t"}}},
{"data":{"name":"titles"},"transform":[{"filter":"datum.p==3"}],"mark":{"type":"text","font":"Liberation Sans","fontSize":33,"align":"center","baseline":"middle"},"encoding":{"text":{"field":"t"}}}
]},
{"width":356,"height":375,"encoding":{"x":{"field":"x","type":"quantitative","scale":{"domain":[-0.03125,0.71042]},"axis":null},"y":{"field":"y","type":"quantitative","scale":{"domain":[-0.1375,0.64375]},"axis":null}},"layer":[
{"data":{"name":"frame"},"mark":{"type":"line","fill":"#e000ff","stroke":"transparent"},"encoding":{"order":{"value":null}}},
{"data":{"name":"contours"},"transform":[{"filter":"datum.p==4"}],"mark":{"type":"line","interpolate":"cardinal-closed","strokeWidth":0,"stroke":"transparent"},"encoding":{"fill":{"field":"l","type":"ordinal","legend":null,"scale":{"domain":[1,2,3,4,5,6,7,8,9,9.5,10,10.5,11,12,13,14],"range":["#9000ff","#4800ff","#0000ff","#0070ff","#00a8ff","#00e0ff","#00ffc8","#00ff70","#00ff00","#40ff00","#80ff00","#c0ff00","#ffff00","#ffa800","#ff6000","#ff2000"]}},"detail":{"field":"m"},"order":{"value":null}}},
{"data":{"name":"frame"},"mark":{"type":"line","stroke":"black","strokeWidth":2},"encoding":{"order":{"value":null}}},
{"data":{"name":"ticks"},"mark":{"type":"rule","stroke":"#555","strokeWidth":1},"encoding":{"x2":{"field":"x2"},"y2":{"field":"y2"}}},
{"data":{"name":"betaLabels"},"mark":{"type":"text","font":"Liberation Sans","fontSize":20,"angle":90,"align":"center","baseline":"middle"},"encoding":{"text":{"field":"t"}}},
{"data":{"name":"gammaLabels"},"mark":{"type":"text","font":"Liberation Sans","fontSize":20,"align":"center","baseline":"middle"},"encoding":{"text":{"field":"t"},"angle":{"field":"g","type":"quantitative","scale":{"domain":[0,90],"range":[90,0]},"legend":null}}},
{"data":{"name":"axisNames"},"mark":{"type":"text","font":"Liberation Serif","fontSize":36,"align":"center","baseline":"middle"},"encoding":{"text":{"field":"t"}}},
{"data":{"name":"titles"},"transform":[{"filter":"datum.p==4"}],"mark":{"type":"text","font":"Liberation Sans","fontSize":33,"align":"center","baseline":"middle"},"encoding":{"text":{"field":"t"}}}
]}
]}
